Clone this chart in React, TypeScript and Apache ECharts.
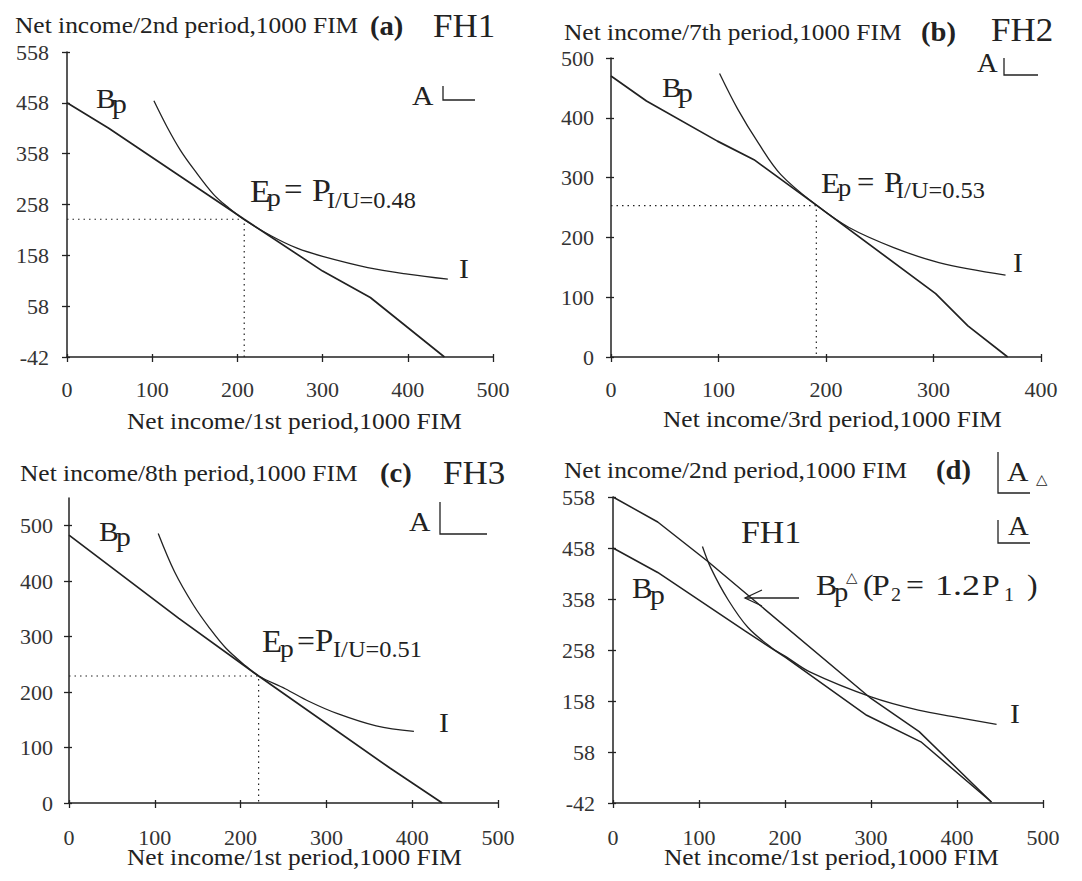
import React, { useEffect, useRef } from "react";
import * as echarts from "echarts";

const FONT = '"Liberation Serif", "Times New Roman", serif';
const INK = "#222";
const SX = 1.06;

// ---------- data ----------
// (a) FH1: periods 1 -> 2
const xTicksA = [0, 100, 200, 300, 400, 500];
const yTicksA = [-42, 58, 158, 258, 358, 458, 558];
const budgetA = [[0, 458], [49, 408], [208, 229], [300, 127], [356, 75], [443, -42]];
const indiffA = [[102, 462], [117, 412], [133, 365], [149, 327], [172, 278], [190, 251], [208, 228], [240, 196], [270, 172], [300, 156], [353, 134], [400, 121], [447, 111]];
const eqA = [208, 229];

// (b) FH2: periods 3 -> 7
const xTicksB = [0, 100, 200, 300, 400];
const yTicksB = [0, 100, 200, 300, 400, 500];
const budgetB = [[0, 470], [33, 428], [99, 361], [133, 330], [191, 254], [302, 106], [332, 52], [369, 0]];
const indiffB = [[101, 474], [118, 414], [137, 358], [158, 305], [191, 254], [221, 217], [263, 183], [305, 158], [367, 137]];
const eqB = [191, 253];

// (c) FH3: periods 1 -> 8
const xTicksC = [0, 100, 200, 300, 400, 500];
const yTicksC = [0, 100, 200, 300, 400, 500];
const budgetC = [[0, 483], [128, 333], [221, 229], [374, 63], [435, 0]];
const indiffC = [[104, 486], [123, 417], [145, 357], [164, 315], [183, 279], [206, 247], [221, 229], [252, 206], [280, 183], [313, 161], [358, 139], [402, 129]];
const eqC = [221, 229];

// (d) FH1 with P2 = 1.2 P1
const xTicksD = [0, 100, 200, 300, 400, 500];
const yTicksD = [-42, 58, 158, 258, 358, 458, 558];
const budgetD = [[0, 458], [52, 410], [153, 296], [201, 243], [295, 130], [358, 78], [440, -40]];
const budgetDeltaD = [[0, 558], [52, 509], [110, 432], [300, 163], [356, 98], [440, -40]];
const indiffD = [[104, 461], [114, 418], [134, 356], [157, 302], [184, 263], [201, 245], [230, 214], [300, 166], [355, 140], [400, 126], [446, 112]];

const panels = [
  { grid: { left: 67, top: 52, width: 426, height: 305 }, x: [0, 500], y: [-42, 558], xTicks: xTicksA, yTicks: yTicksA, xMargin: 21, yMargin: 18 },
  { grid: { left: 611, top: 58, width: 430, height: 299 }, x: [0, 400], y: [0, 500], xTicks: xTicksB, yTicks: yTicksB, xMargin: 21, yMargin: 17 },
  { grid: { left: 69, top: 498, width: 429, height: 305 }, x: [0, 500], y: [0, 550], xTicks: xTicksC, yTicks: yTicksC, xMargin: 23, yMargin: 16 },
  { grid: { left: 613, top: 497, width: 430, height: 306 }, x: [0, 500], y: [-42, 558], xTicks: xTicksD, yTicks: yTicksD, xMargin: 23, yMargin: 18 },
];

function T(x: number, y: number, text: string, size: number, extra: any = {}, sx = SX) {
  return {
    type: "text",
    x,
    y,
    scaleX: sx,
    z: 10,
    silent: true,
    style: {
      text,
      fontFamily: FONT,
      fontSize: size,
      fill: INK,
      align: "left",
      verticalAlign: "middle",
      textAlign: "left",
      textVerticalAlign: "middle",
      ...extra,
    },
  };
}

function PL(points: number[][], w = 1.3) {
  return {
    type: "polyline",
    z: 10,
    silent: true,
    shape: { points },
    style: { stroke: INK, lineWidth: w, fill: "none" },
  };
}

function lineSeries(idx: number, data: number[][], smooth: boolean | number, width: number, type: any = "solid") {
  return {
    type: "line",
    xAxisIndex: idx * 2,
    yAxisIndex: idx * 2,
    data,
    symbol: "none",
    showSymbol: false,
    smooth,
    silent: true,
    lineStyle: { color: INK, width, type },
  };
}

function dotted(idx: number, eq: number[], x0: number, y0: number) {
  return lineSeries(idx, [[x0, eq[1]], [eq[0], eq[1]], [eq[0], y0]], false, 1.2, [1.5, 4]);
}

export default function App() {
  const ref = useRef<HTMLDivElement>(null);

  useEffect(() => {
    if (!ref.current) return;
    const chart = echarts.init(ref.current, undefined, { renderer: "svg" });

    const grid: any[] = [];
    const xAxis: any[] = [];
    const yAxis: any[] = [];
    panels.forEach((p, i) => {
      grid.push({ ...p.grid, containLabel: false });
      const common = { type: "value", gridIndex: i, splitLine: { show: false } };
      const label = { fontFamily: FONT, fontSize: 22, color: "#333" };
      xAxis.push({
        ...common,
        min: p.x[0],
        max: p.x[1],
        position: "bottom",
        axisLine: { onZero: false, lineStyle: { color: INK, width: 1.5 } },
        axisTick: { show: true, length: 5, customValues: p.xTicks, lineStyle: { color: INK, width: 1.3 } },
        axisLabel: { customValues: p.xTicks, margin: p.xMargin, ...label },
      });
      xAxis.push({
        ...common,
        min: p.x[0],
        max: p.x[1],
        position: "bottom",
        axisLine: { show: false, onZero: false },
        axisTick: { show: true, inside: true, length: 3, customValues: p.xTicks, lineStyle: { color: INK, width: 1.3 } },
        axisLabel: { show: false },
      });
      yAxis.push({
        ...common,
        min: p.y[0],
        max: p.y[1],
        position: "left",
        axisLine: { onZero: false, lineStyle: { color: INK, width: 1.5 } },
        axisTick: { show: true, length: 5, customValues: p.yTicks, lineStyle: { color: INK, width: 1.3 } },
        axisLabel: { customValues: p.yTicks, margin: p.yMargin, ...label },
      });
      yAxis.push({
        ...common,
        min: p.y[0],
        max: p.y[1],
        position: "left",
        axisLine: { show: false, onZero: false },
        axisTick: { show: true, inside: true, length: 3, customValues: p.yTicks, lineStyle: { color: INK, width: 1.3 } },
        axisLabel: { show: false },
      });
    });

    const series = [
      lineSeries(0, budgetA, false, 1.7),
      lineSeries(0, indiffA, 0.35, 1.3),
      dotted(0, eqA, 0, -42),
      lineSeries(1, budgetB, false, 1.7),
      lineSeries(1, indiffB, 0.35, 1.3),
      dotted(1, eqB, 0, 0),
      lineSeries(2, budgetC, false, 1.7),
      lineSeries(2, indiffC, 0.35, 1.3),
      dotted(2, eqC, 0, 0),
      lineSeries(3, budgetD, false, 1.5),
      lineSeries(3, budgetDeltaD, false, 1.5),
      lineSeries(3, indiffD, 0.35, 1.3),
    ];

    const bold = { fontWeight: "bold" };
    const graphic: any[] = [
      // (a)
      T(15, 25, "Net income/2nd period,1000 FIM", 24),
      T(370, 26, "(a)", 27, bold),
      T(433, 26, "FH1", 33),
      T(96, 98, "B", 28),
      T(112, 103, "p", 28),
      T(412, 95.5, "A", 28),
      PL([[443, 86], [443, 100], [475, 100]]),
      T(250, 191, "E", 32),
      T(267, 197, "p", 26),
      T(284, 190, "=", 31),
      T(312, 190, "P", 32),
      T(327, 200, "I/U=0.48", 23),
      T(459, 268, "I", 28),
      T(127, 421, "Net income/1st period,1000 FIM", 24),
      // (b)
      T(564, 32, "Net income/7th period,1000 FIM", 24),
      T(921, 32, "(b)", 27, bold),
      T(991, 30, "FH2", 33),
      T(977, 63, "A", 27),
      PL([[1004, 58], [1004, 75], [1038, 75]]),
      T(662, 87.5, "B", 28),
      T(678, 92, "p", 28),
      T(821, 182.5, "E", 30),
      T(838, 188, "p", 25),
      T(857, 182, "=", 29),
      T(884, 181.5, "P", 30),
      T(896, 190, "I/U=0.53", 23),
      T(1013, 262, "I", 28),
      T(663, 419, "Net income/3rd period,1000 FIM", 24),
      // (c)
      T(20, 473, "Net income/8th period,1000 FIM", 24),
      T(380, 473, "(c)", 27, bold),
      T(443, 473, "FH3", 33),
      T(409, 521, "A", 28),
      PL([[440, 502], [440, 534], [487, 534]]),
      T(99, 531, "B", 28),
      T(116, 536, "p", 28),
      T(262, 642, "E", 31),
      T(280, 648, "p", 26),
      T(297, 641, "=", 30),
      T(315, 641, "P", 31),
      T(333, 649, "I/U=0.51", 23),
      T(439, 722, "I", 28),
      T(127, 857, "Net income/1st period,1000 FIM", 24),
      // (d)
      T(564, 470, "Net income/2nd period,1000 FIM", 24),
      T(936, 470, "(d)", 27, bold),
      PL([[998, 452], [998, 493], [1030, 493]]),
      T(1007, 471, "A", 28),
      T(1036, 479, "△", 14),
      PL([[998, 520], [998, 543], [1030, 543]]),
      T(1008, 526, "A", 27),
      T(741, 532, "FH1", 32),
      T(632, 588, "B", 29),
      T(650, 594, "p", 28),
      PL([[799, 598], [745, 598]], 1.3),
      PL([[762, 590], [745, 598], [762, 606]], 1.3),
      T(816, 585, "B", 30),
      T(846, 577, "△", 14),
      T(834, 592, "p", 27),
      T(863, 585, "(", 30),
      T(872, 585, "P", 30),
      T(891, 595, "2", 19),
      T(906, 585, "=", 30),
      T(935, 585, "1.2", 30, {}, 1.2),
      T(982, 585, "P", 30),
      T(1004, 595, "1", 19),
      T(1027, 585, ")", 30),
      T(1010, 713, "I", 28),
      T(664, 857, "Net income/1st period,1000 FIM", 24),
    ];

    chart.setOption({
      animation: false,
      backgroundColor: "#ffffff",
      grid,
      xAxis,
      yAxis,
      series,
      graphic,
    });

    return () => chart.dispose();
  }, []);

  return (
    <div
      ref={ref}
      style={{ position: "fixed", left: 0, top: 0, width: 1082, height: 881, background: "#fff" }}
    />
  );
}
